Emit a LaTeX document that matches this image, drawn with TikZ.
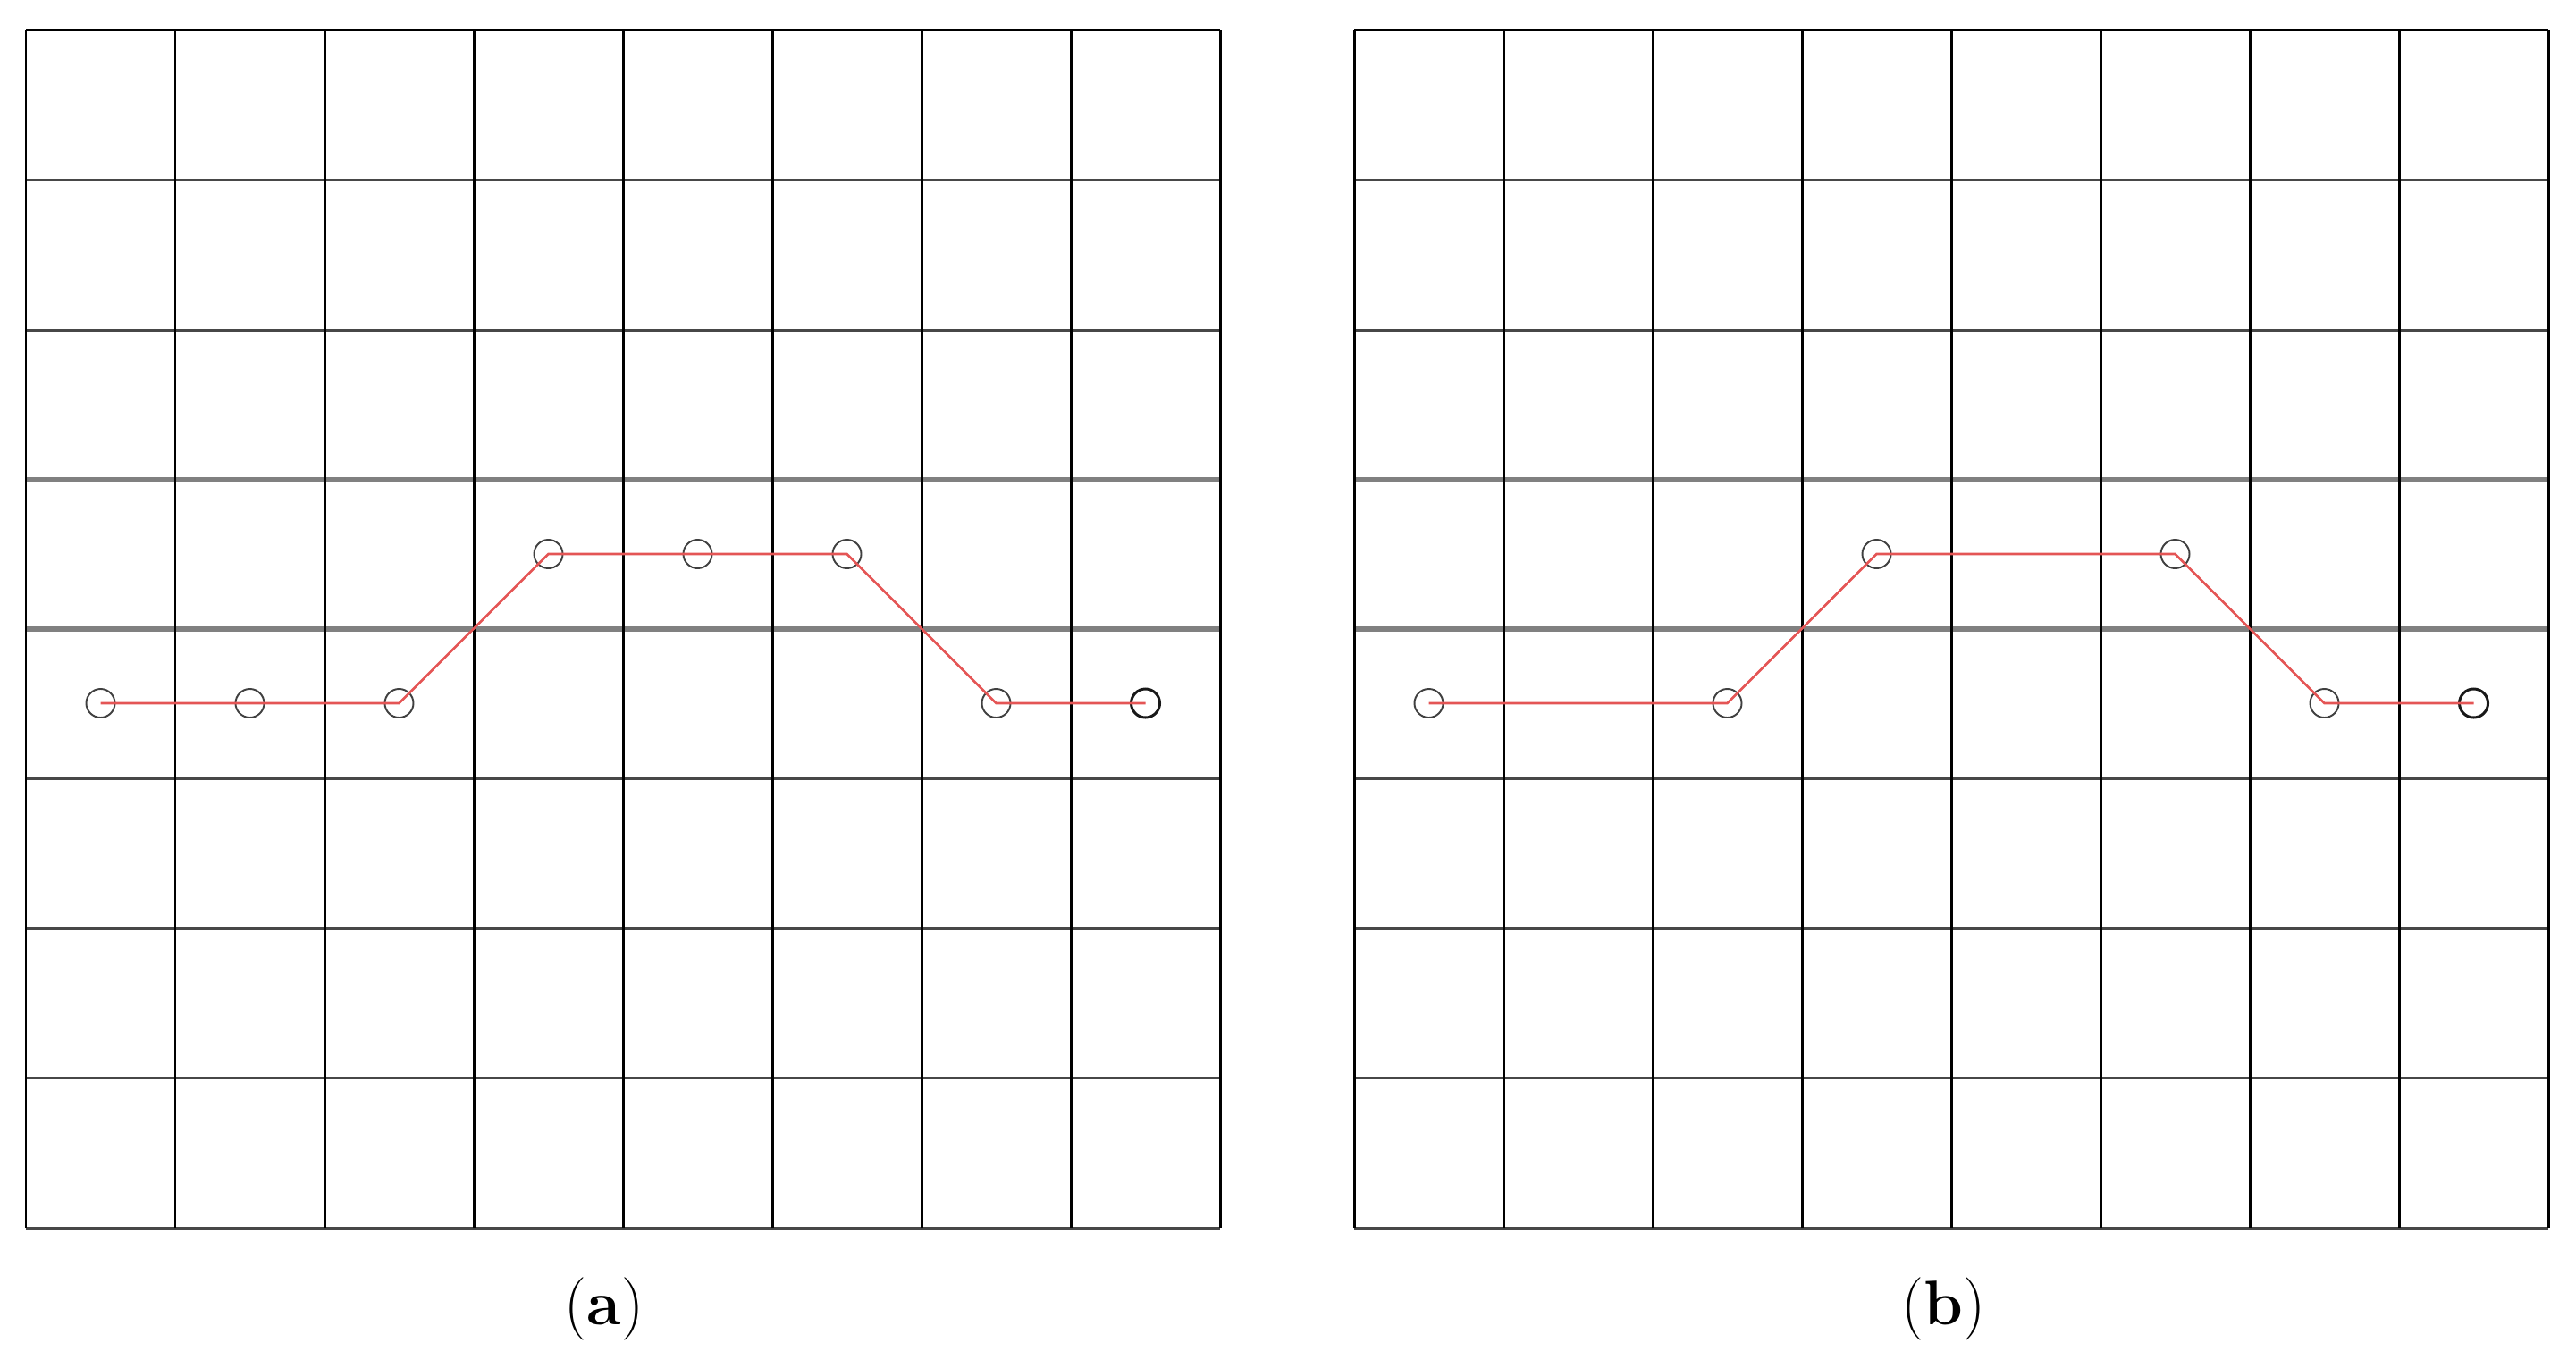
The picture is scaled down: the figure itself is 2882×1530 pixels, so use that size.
\documentclass[tikz,border=0pt]{standalone}
\begin{document}
\begin{tikzpicture}[x=0.01cm,y=-0.01cm,
  vline/.style={black,line width=0.85pt},
  hline/.style={black!72,line width=0.85pt},
  gline/.style={black!50,line width=1.6pt},
  pt/.style={circle,draw=black!75,line width=0.55pt,minimum size=0.32cm,inner sep=0pt},
  ptend/.style={pt,draw=black!90,line width=0.85pt},
  path/.style={draw={rgb,255:red,228;green,85;blue,85},line width=0.75pt},
  lab/.style={font=\fontsize{20}{24}\selectfont,inner sep=0pt}]
\useasboundingbox (0,0) rectangle (2882,1530);
% grids
\foreach \ox in {29,1515}{
  \foreach \k in {1,2,5,6,7,8}{
    \draw[hline] (\ox,{34+167.5*\k}) -- ({\ox+1336},{34+167.5*\k});
  }
  \foreach \k in {3,4}{
    \draw[gline] (\ox,{34+167.5*\k}) -- ({\ox+1336},{34+167.5*\k});
  }
  \draw[vline] (\ox,34) -- ({\ox+1336},34);
  \foreach \k in {0,...,8}{
    \draw[vline] ({\ox+167*\k},34) -- ({\ox+167*\k},1374);
  }
}
% panel (a) points
\node[pt] (a0) at (112.5,787) {};
\node[pt] (a1) at (279.5,787) {};
\node[pt] (a2) at (446.5,787) {};
\node[pt] (a3) at (613.5,620) {};
\node[pt] (a4) at (780.5,620) {};
\node[pt] (a5) at (947.5,620) {};
\node[pt] (a6) at (1114.5,787) {};
\node[ptend] (a7) at (1281.5,787) {};
\draw[path] (a0.center) -- (a1.center) -- (a2.center) -- (a3.center) -- (a4.center) -- (a5.center) -- (a6.center) -- (a7.center);
% panel (b) points
\node[pt] (b0) at (1598.5,787) {};
\node[pt] (b2) at (1932.5,787) {};
\node[pt] (b3) at (2099.5,620) {};
\node[pt] (b5) at (2433.5,620) {};
\node[pt] (b6) at (2600.5,787) {};
\node[ptend] (b7) at (2767.5,787) {};
\draw[path] (b0.center) -- (b2.center) -- (b3.center) -- (b5.center) -- (b6.center) -- (b7.center);
% labels
\node[lab] (la) at (676,1465) {(\textbf{a})};
\node[lab] (lb) at (2174,1465) {(\textbf{b})};
\end{tikzpicture}
\end{document}
